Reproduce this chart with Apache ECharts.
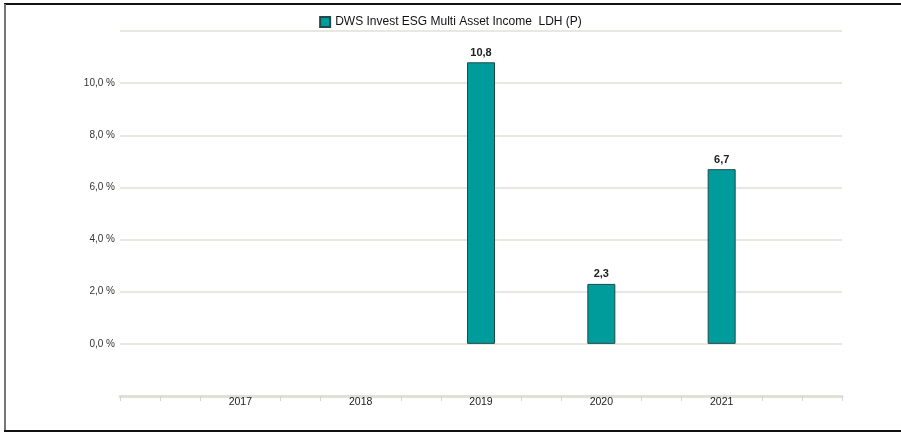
<!DOCTYPE html>
<html>
<head>
<meta charset="utf-8">
<script src="https://cdn.jsdelivr.net/npm/echarts@6/dist/echarts.min.js"></script>
<style>
html,body{margin:0;padding:0;background:#fff;}
#chart{width:901px;height:433px;}
</style>
</head>
<body>
<div id="chart"></div>
<script>
const seriesName = 'DWS Invest ESG Multi Asset Income  LDH (P)';
const years = ['2017', '2018', '2019', '2020', '2021'];
const values = [null, null, 10.8, 2.3, 6.7];
const yTicks = [0, 2, 4, 6, 8, 10];

const cats = [''].concat(years).concat(['']);
const barData = [null].concat(values).concat([null]);
const tickCats = Array.from({length: 19}, (_, i) => 't' + i);

const chart = echarts.init(document.getElementById('chart'));
const font = 'Liberation Sans, Arial, sans-serif';
chart.setOption({
  animation: false,
  textStyle: {fontFamily: font},
  legend: {
    top: 11,
    left: 'center',
    itemWidth: 10,
    itemHeight: 10,
    itemGap: 6,
    textStyle: {fontSize: 12, color: '#111', fontFamily: font},
    data: [{name: seriesName, icon: 'rect'}]
  },
  grid: {left: 120, right: 59, top: 31, bottom: 37, containLabel: false},
  xAxis: [{
    type: 'category',
    data: cats,
    boundaryGap: false,
    axisLine: {show: true, onZero: false, lineStyle: {color: '#e2dfd7', width: 3}},
    axisTick: {show: false},
    axisLabel: {color: '#222', fontSize: 10.5, margin: 1, fontFamily: font},
    splitLine: {show: false}
  }, {
    type: 'category',
    data: tickCats,
    boundaryGap: false,
    position: 'bottom',
    axisLine: {show: false, onZero: false},
    axisLabel: {show: false},
    axisTick: {
      show: true, length: 5, inside: false,
      lineStyle: {color: '#d8d5cc', width: 1},
      interval: function (i) { return i % 3 !== 0 || i === 0 || i === 18; }
    }
  }],
  yAxis: {
    type: 'value',
    min: -2,
    max: 12,
    interval: 2,
    axisLine: {show: false},
    axisTick: {show: false},
    axisLabel: {
      color: '#333', fontSize: 10, margin: 5, fontFamily: font,
      formatter: function (v) {
        if (yTicks.indexOf(v) < 0) return '';
        return v.toFixed(1).replace('.', ',') + ' %';
      }
    },
    splitLine: {lineStyle: {color: '#e2dfd8', width: 1.5}}
  },
  series: [{
    name: seriesName,
    type: 'bar',
    xAxisIndex: 0,
    data: barData,
    barWidth: 28,
    itemStyle: {color: '#009c9c', borderColor: '#1d4a4a', borderWidth: 1},
    label: {
      show: true,
      position: 'top',
      distance: 4,
      color: '#222',
      fontSize: 11,
      fontWeight: 'bold',
      fontFamily: font,
      formatter: function (p) { return p.value == null ? '' : String(p.value).replace('.', ','); }
    }
  }],
  graphic: [
    {type: 'line', shape: {x1: 4, y1: 4, x2: 901, y2: 4}, style: {stroke: '#111', lineWidth: 2}},
    {type: 'line', shape: {x1: 5, y1: 4, x2: 5, y2: 432}, style: {stroke: '#777', lineWidth: 2}},
    {type: 'line', shape: {x1: 4, y1: 431, x2: 901, y2: 431}, style: {stroke: '#111', lineWidth: 2}}
  ]
});
</script>
</body>
</html>
